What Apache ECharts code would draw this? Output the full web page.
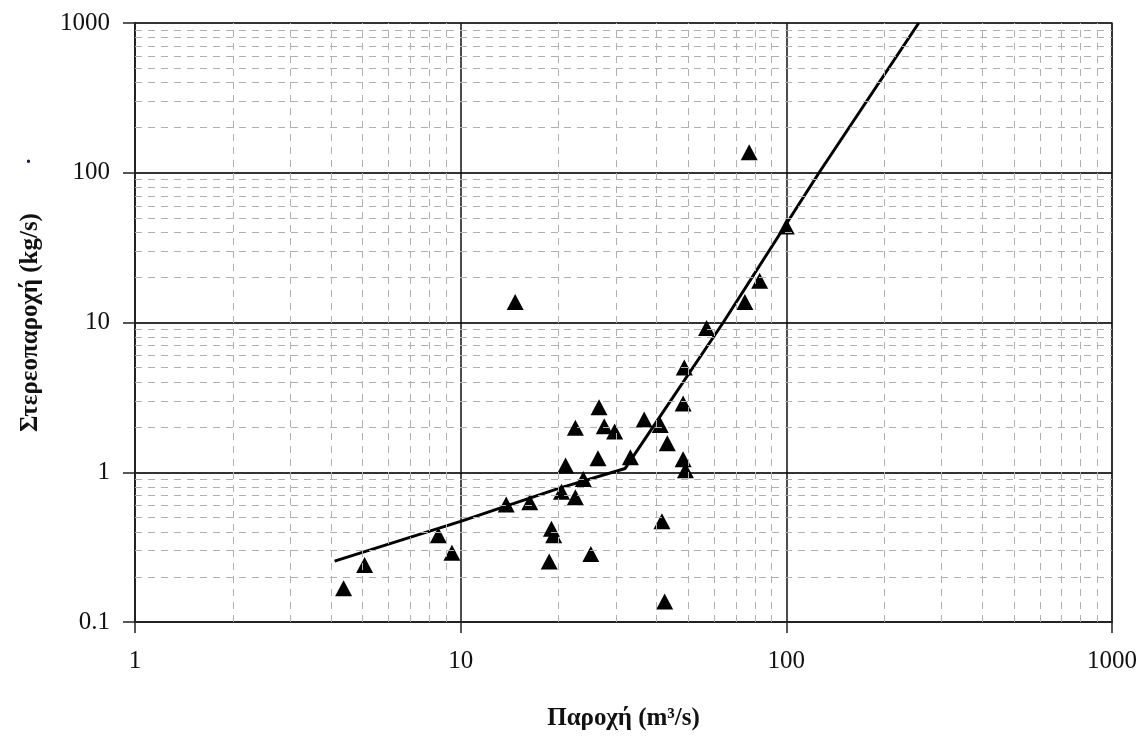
<!DOCTYPE html>
<html>
<head>
<meta charset="utf-8">
<script src="https://cdn.jsdelivr.net/npm/echarts@6/dist/echarts.min.js"></script>
<style>
  html, body { margin: 0; padding: 0; background: #fff; }
  #main { width: 1140px; height: 738px; }
</style>
</head>
<body>
<div id="main"></div>
<script>
// μετρήσεις παροχής - στερεοπαροχής (log-log)
var flow = [4.37, 5.07, 8.54, 9.4, 14.7, 13.8, 16.3, 18.7, 19.0, 19.3, 20.4, 21.0, 22.5, 22.5,
  23.8, 25.1, 26.4, 26.6, 27.6, 29.7, 33.2, 36.6, 41.0, 41.5, 42.3, 43.1, 48.2, 48.2, 49.0,
  48.6, 56.9, 74.6, 82.8, 100, 76.9];
var sediment = [0.168, 0.24, 0.38, 0.29, 13.7, 0.61, 0.63, 0.254, 0.42, 0.38, 0.74, 1.11, 1.98, 0.68,
  0.90, 0.284, 1.24, 2.72, 2.03, 1.87, 1.26, 2.25, 2.07, 0.47, 0.137, 1.56, 2.88, 1.22, 1.03,
  5.0, 9.2, 13.7, 19, 43.8, 137];

// καμπύλη στερεοπαροχής
var curveX = [4.1, 10, 20, 32, 64, 126, 255];
var curveY = [0.255, 0.47, 0.78, 1.06, 10, 100, 1000];

var minorX = [2, 3, 4, 5, 6, 7, 8, 9, 20, 30, 40, 50, 60, 70, 80, 90, 200, 300, 400, 500, 600, 700, 800, 900];
var minorY = [0.2, 0.3, 0.4, 0.5, 0.6, 0.7, 0.8, 0.9, 2, 3, 4, 5, 6, 7, 8, 9,
  20, 30, 40, 50, 60, 70, 80, 90, 200, 300, 400, 500, 600, 700, 800, 900];

var points = flow.map(function (q, i) { return [q, sediment[i]]; });
var curve = curveX.map(function (q, i) { return [q, curveY[i]]; });

var minorLines = [];
minorX.forEach(function (v) { minorLines.push({ xAxis: v }); });
minorY.forEach(function (v) { minorLines.push({ yAxis: v }); });

var font = 'Liberation Serif';
function fmt(v) {
  return v < 1 ? String(Math.round(v * 10) / 10) : String(Math.round(v));
}

var myChart = echarts.init(document.getElementById('main'));
var option = {
  animation: false,
  textStyle: { fontFamily: font },
  grid: {
    left: 135, right: 28, top: 23, bottom: 116,
    show: true, borderColor: '#9a9a9a', borderWidth: 2
  },
  xAxis: {
    type: 'log', logBase: 10, min: 1, max: 1000,
    name: 'Παροχή (m³/s)', nameLocation: 'middle', nameGap: 84,
    nameTextStyle: { fontFamily: font, fontSize: 25, fontWeight: 'bold', color: '#111' },
    axisLine: { onZero: false, lineStyle: { color: '#222', width: 2 } },
    axisTick: { show: true, inside: false, length: 11, lineStyle: { color: '#222', width: 1.5 } },
    axisLabel: { margin: 27, fontFamily: font, fontSize: 25, color: '#111', formatter: fmt },
    splitLine: { show: true, lineStyle: { color: '#111', width: 1.5 } },
    minorTick: { show: false }
  },
  yAxis: {
    type: 'log', logBase: 10, min: 0.1, max: 1000,
    name: 'Στερεοπαροχή (kg/s)', nameLocation: 'middle', nameGap: 92, nameRotate: 90,
    nameTextStyle: { fontFamily: font, fontSize: 25, fontWeight: 'bold', color: '#111' },
    axisLine: { onZero: false, lineStyle: { color: '#222', width: 2 } },
    axisTick: { show: true, inside: false, length: 12, lineStyle: { color: '#222', width: 1.5 } },
    axisLabel: { margin: 25, fontFamily: font, fontSize: 25, color: '#111', formatter: fmt },
    splitLine: { show: true, lineStyle: { color: '#333', width: 2 } }
  },
  graphic: [
    { type: 'text', left: 26, top: 148, style: { text: '.', fontSize: 20, fontWeight: 'bold', fill: '#1a1a4a', fontFamily: font } }
  ],
  series: [
    {
      name: 'grid',
      type: 'scatter',
      data: [],
      z: 1,
      silent: true,
      markLine: {
        silent: true,
        symbol: 'none',
        animation: false,
        label: { show: false },
        lineStyle: { color: '#b0b0b0', type: [7, 6], width: 1 },
        data: minorLines
      }
    },
    {
      name: 'curve',
      type: 'line',
      data: curve,
      showSymbol: false,
      z: 3,
      lineStyle: { color: '#000', width: 3 }
    },
    {
      name: 'data',
      type: 'scatter',
      data: points,
      symbol: 'triangle',
      symbolSize: [17, 16],
      z: 4,
      itemStyle: { color: '#000', opacity: 1 }
    }
  ]
};
myChart.setOption(option);
</script>
</body>
</html>
